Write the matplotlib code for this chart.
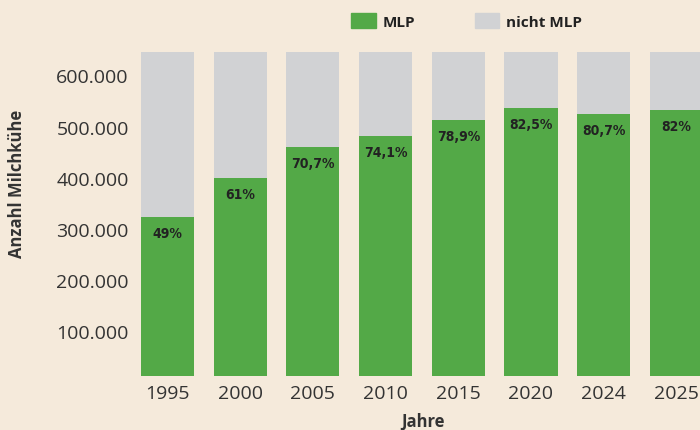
import matplotlib.pyplot as plt
import matplotlib.transforms as mtransforms
from matplotlib.patches import Patch

# data
jahre = ['1995', '2000', '2005', '2010', '2015', '2020', '2024', '2025']
mlp = [310000, 386000, 447500, 469000, 499500, 522000, 511000, 519000]
nicht_mlp = [323000, 247000, 185500, 164000, 133500, 111000, 122000, 114000]
anteil = ['49%', '61%', '70,7%', '74,1%', '78,9%', '82,5%', '80,7%', '82%']
y_ticks = [100000, 200000, 300000, 400000, 500000, 600000]

bg = '#f5eadb'
green = '#53a947'
grey = '#d1d2d4'
txt = '#333333'

plt.rcParams['font.family'] = ['Open Sans', 'DejaVu Sans']

fig = plt.figure(figsize=(7, 4.31), dpi=100, facecolor=bg)
ax = fig.add_axes([0.19, 0.126, 0.81, 0.7812])
ax.set_facecolor(bg)

x = range(len(jahre))
ax.bar(x, mlp, width=0.73, color=green, label='MLP')
ax.bar(x, nicht_mlp, width=0.73, bottom=mlp, color=grey, label='nicht MLP')

for i in x:
    ax.annotate(anteil[i], (i, mlp[i]), xytext=(0, -11.5), textcoords='offset points',
                ha='center', va='center', fontsize=10, fontweight='bold',
                fontstretch='condensed', color='#222222', family='DejaVu Sans')

ax.set_xlim(-0.475, 7.325)
ax.set_ylim(0, 657600)
ax.set_xticks(list(x))
ax.set_xticklabels(jahre)
ax.set_yticks(y_ticks)
ax.set_yticklabels([f'{v:,}'.replace(',', '.') for v in y_ticks])
ax.tick_params(length=0, labelsize=14, labelcolor=txt)
ax.tick_params(axis='x', pad=6)
ax.tick_params(axis='y', pad=3)
# the y labels sit a bit lower than their values in the original
off = mtransforms.ScaledTranslation(0, -7 / 100, fig.dpi_scale_trans)
for lab in ax.get_yticklabels():
    lab.set_transform(lab.get_transform() + off)
for s in ax.spines.values():
    s.set_visible(False)

fig.text(0.025, 0.573, 'Anzahl Milchkühe', rotation=90, ha='center', va='center',
         fontsize=12, fontweight='bold', color=txt)
fig.text(0.604, 0.022, 'Jahre', ha='center', va='center',
         fontsize=12, fontweight='bold', color=txt)

handles = [Patch(color=green, label='MLP'), Patch(color=grey, label='nicht MLP')]
leg = fig.legend(handles=handles, loc='center left', bbox_to_anchor=(0.493, 0.949),
                 ncol=2, frameon=False, handlelength=1.6, handleheight=1.05,
                 handletextpad=0.45, columnspacing=3.9, borderaxespad=0,
                 prop={'size': 11, 'weight': 'bold'})
for t in leg.get_texts():
    t.set_color('#222222')

fig.savefig('out.png', dpi=100, facecolor=bg)
